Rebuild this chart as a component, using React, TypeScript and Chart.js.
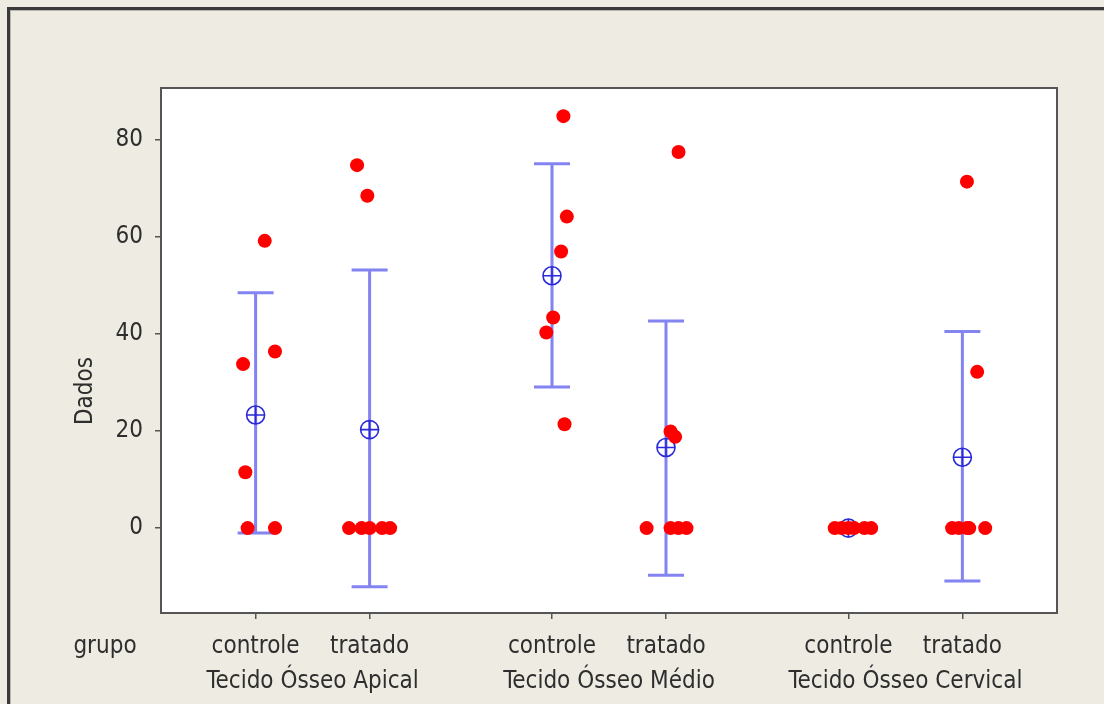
import { useEffect, useRef } from "react";
import { Chart, registerables } from "chart.js";

Chart.register(...registerables);

// Group and sub-group names
const groups = ["Tecido Ósseo Apical", "Tecido Ósseo Médio", "Tecido Ósseo Cervical"];
const subgroups = ["controle", "tratado", "controle", "tratado", "controle", "tratado"];
const positions = [0, 1, 2.6, 3.6, 5.2, 6.2];
const yTicks = [0, 20, 40, 60, 80];

// Individual observations per sub-group
const apicalControle = [59.2, 36.4, 33.8, 11.5, 0, 0];
const apicalTratado = [74.8, 68.5, 0, 0, 0, 0, 0];
const medioControle = [84.9, 64.2, 57.0, 43.4, 40.3, 21.4];
const medioTratado = [77.5, 19.9, 18.8, 0, 0, 0, 0];
const cervicalControle = [0, 0, 0, 0, 0, 0];
const cervicalTratado = [71.4, 32.2, 0, 0, 0, 0, 0];

// Horizontal jitter of each observation (category units)
const apicalControleJitter = [0.08, 0.17, -0.11, -0.09, -0.07, 0.17];
const apicalTratadoJitter = [-0.11, -0.02, -0.18, -0.07, 0, 0.11, 0.18];
const medioControleJitter = [0.1, 0.13, 0.08, 0.01, -0.05, 0.11];
const medioTratadoJitter = [0.11, 0.04, 0.08, -0.17, 0.04, 0.11, 0.18];
const cervicalControleJitter = [-0.12, -0.06, 0, 0.05, 0.14, 0.2];
const cervicalTratadoJitter = [0.04, 0.13, -0.09, -0.03, 0.04, 0.06, 0.2];

// Mean and 95% confidence interval of each sub-group
const means = [23.3, 20.3, 52.0, 16.6, 0, 14.6];
const ciLow = [-1.0, -12.1, 29.1, -9.7, 0, -10.9];
const ciHigh = [48.5, 53.2, 75.1, 42.7, 0, 40.5];

const seriesValues = [apicalControle, apicalTratado, medioControle, medioTratado, cervicalControle, cervicalTratado];
const seriesJitter = [
  apicalControleJitter,
  apicalTratadoJitter,
  medioControleJitter,
  medioTratadoJitter,
  cervicalControleJitter,
  cervicalTratadoJitter,
];

const FONT = "'DejaVu Sans Condensed', 'DejaVu Sans', sans-serif";
const FONT_SIZE = 24;
const TEXT = "#2e2e2e";
const BEIGE = "#eeebe2";

const framePlugin = {
  id: "frame",
  beforeDraw(chart: any) {
    const { ctx, chartArea: a, width, height } = chart;
    ctx.save();
    ctx.fillStyle = BEIGE;
    ctx.fillRect(0, 0, width, height);
    // outer border (left and top)
    ctx.fillStyle = "#3a3a3a";
    ctx.fillRect(7, 7, width - 7, 3);
    ctx.fillRect(7, 7, 3, height - 7);
    ctx.fillStyle = "#b9b6ae";
    ctx.fillRect(10, 10, width - 10, 1);
    ctx.fillRect(10, 10, 1, height - 10);
    // plot area
    ctx.fillStyle = "#ffffff";
    ctx.fillRect(a.left, a.top, a.right - a.left, a.bottom - a.top);
    ctx.restore();
  },
  beforeDatasetsDraw(chart: any) {
    const { ctx, scales } = chart;
    const xs = scales.x;
    const ys = scales.y;
    ctx.save();
    ctx.strokeStyle = "rgba(90,90,238,0.75)";
    ctx.lineWidth = 3;
    positions.forEach((p, i) => {
      const x = xs.getPixelForValue(p);
      const y1 = ys.getPixelForValue(ciLow[i]);
      const y2 = ys.getPixelForValue(ciHigh[i]);
      ctx.beginPath();
      ctx.moveTo(x, y1);
      ctx.lineTo(x, y2);
      ctx.moveTo(x - 18, y1);
      ctx.lineTo(x + 18, y1);
      ctx.moveTo(x - 18, y2);
      ctx.lineTo(x + 18, y2);
      ctx.stroke();
    });
    ctx.restore();
  },
  afterDraw(chart: any) {
    const { ctx, chartArea: a, scales } = chart;
    const xs = scales.x;
    ctx.save();
    ctx.strokeStyle = "#555555";
    ctx.lineWidth = 2;
    ctx.strokeRect(a.left, a.top, a.right - a.left, a.bottom - a.top);

    ctx.fillStyle = TEXT;
    ctx.font = `${FONT_SIZE}px ${FONT}`;
    ctx.textAlign = "center";
    ctx.textBaseline = "alphabetic";
    groups.forEach((g, i) => {
      const x = (xs.getPixelForValue(positions[2 * i]) + xs.getPixelForValue(positions[2 * i + 1])) / 2;
      ctx.fillText(g, x, 688);
    });
    ctx.fillText("grupo", 105, 653);

    ctx.translate(92, 391);
    ctx.rotate(-Math.PI / 2);
    ctx.fillText("Dados", 0, 0);
    ctx.restore();
  },
};

export default function App() {
  const canvasRef = useRef<HTMLCanvasElement | null>(null);

  useEffect(() => {
    const canvas = canvasRef.current;
    if (!canvas) return;

    const points = seriesValues.flatMap((vals, i) =>
      vals.map((v, j) => ({ x: positions[i] + seriesJitter[i][j], y: v }))
    );
    const meanPoints = means.map((m, i) => ({ x: positions[i], y: m }));

    const chart = new Chart(canvas, {
      type: "scatter",
      data: {
        datasets: [
          {
            label: "Dados",
            data: points,
            pointStyle: "circle",
            pointRadius: 7,
            pointBackgroundColor: "#ff0000",
            pointBorderWidth: 0,
            pointBorderColor: "#ff0000",
          },
          {
            label: "Média",
            data: meanPoints,
            pointStyle: "circle",
            pointRadius: 9,
            pointBackgroundColor: "rgba(0,0,0,0)",
            pointBorderColor: "#2a2ad8",
            pointBorderWidth: 1.6,
          },
          {
            label: "Média+",
            data: meanPoints,
            pointStyle: "cross",
            pointRadius: 9,
            pointBorderColor: "#2a2ad8",
            pointBorderWidth: 1.6,
          },
        ],
      },
      options: {
        responsive: false,
        animation: false,
        events: [],
        layout: { padding: { top: 88, right: 47, left: 0, bottom: 0 } },
        plugins: {
          legend: { display: false },
          tooltip: { enabled: false },
          title: { display: false },
        },
        scales: {
          x: {
            type: "linear",
            min: -0.83,
            max: 7.03,
            afterFit: (s: any) => {
              s.height = 91;
            },
            afterBuildTicks: (s: any) => {
              s.ticks = positions.map((v) => ({ value: v }));
            },
            border: { display: false },
            grid: {
              drawOnChartArea: false,
              drawTicks: true,
              tickLength: 6,
              color: "#555555",
              lineWidth: 1.5,
            },
            ticks: {
              autoSkip: false,
              maxRotation: 0,
              padding: 13,
              color: TEXT,
              font: { family: FONT, size: FONT_SIZE },
              callback: (_v: any, i: number) => subgroups[i],
            },
          },
          y: {
            type: "linear",
            min: -17.5,
            max: 90.7,
            afterFit: (s: any) => {
              s.width = 161;
            },
            afterBuildTicks: (s: any) => {
              s.ticks = yTicks.map((v) => ({ value: v }));
            },
            border: { display: false },
            grid: {
              drawOnChartArea: false,
              drawTicks: true,
              tickLength: 6,
              color: "#555555",
              lineWidth: 1.5,
            },
            ticks: {
              padding: 12,
              color: TEXT,
              font: { family: FONT, size: FONT_SIZE },
            },
          },
        },
      },
      plugins: [framePlugin],
    });

    return () => chart.destroy();
  }, []);

  return (
    <div style={{ position: "absolute", left: 0, top: 0, width: 1104, height: 704 }}>
      <canvas ref={canvasRef} width={1104} height={704} style={{ display: "block" }} />
    </div>
  );
}
